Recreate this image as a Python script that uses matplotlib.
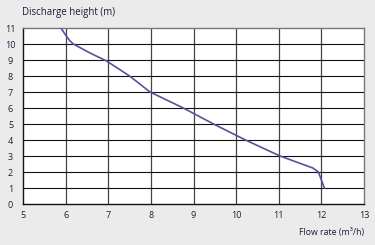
import matplotlib
matplotlib.use("Agg")
import matplotlib.pyplot as plt

# curve
flow = [5.89, 6.02, 6.1, 6.18, 6.57, 6.96, 7.5, 7.98, 8.76, 9.47, 10.22,
        11.03, 11.5, 11.8, 11.93, 12.07]
height = [11.0, 10.48, 10.2, 10.0, 9.44, 8.94, 8.0, 7.0, 6.0, 5.0, 4.0,
          3.0, 2.54, 2.25, 2.0, 1.0]

x_ticks = list(range(5, 14))
y_ticks = list(range(0, 12))

plt.rcParams["font.family"] = ["Open Sans", "DejaVu Sans"]
text_color = "#1c1c3a"

fig = plt.figure(figsize=(3.75, 2.45), dpi=100, facecolor="#ebebeb")
ax = fig.add_axes([23 / 375, 1 - 204 / 245, (364 - 23) / 375, (204 - 28) / 245])
ax.set_facecolor("white")

ax.set_xlim(5, 13)
ax.set_ylim(0, 11)
ax.set_xticks(x_ticks)
ax.set_yticks(y_ticks)

for x in x_ticks[1:-1]:
    ax.axvline(x, color="#444444", lw=0.9, zorder=1)
for y in y_ticks[1:-1]:
    ax.axhline(y, color="#111111", lw=0.8, zorder=1)

ax.plot(flow, height, color="#5a4f9e", lw=1.2, zorder=3)

for side in ("left", "bottom"):
    ax.spines[side].set_color("#111111")
    ax.spines[side].set_linewidth(1.0)
for side in ("top", "right"):
    ax.spines[side].set_color("#777777")
    ax.spines[side].set_linewidth(1.0)

ax.tick_params(length=0, labelsize=6.5, colors=text_color, pad=5)
ax.tick_params(axis="y", pad=9)
for lbl in ax.get_yticklabels():
    lbl.set_horizontalalignment("center")

fig.text(22 / 375, 1 - 13 / 245, "Discharge height (m)", fontsize=6.9,
         color=text_color, ha="left", va="center")
fig.text(364 / 375, 1 - 232 / 245, "Flow rate (m\u00b3/h)", fontsize=6.3,
         color=text_color, ha="right", va="center")

fig.savefig("out.png", dpi=100, facecolor=fig.get_facecolor())
